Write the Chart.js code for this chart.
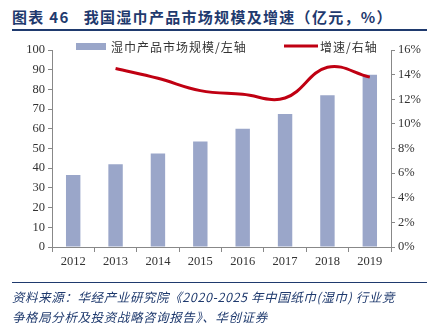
<!DOCTYPE html>
<html>
<head>
<meta charset="utf-8">
<script src="https://cdn.jsdelivr.net/npm/chart.js@4"></script>
<style>
  html, body { margin: 0; padding: 0; background: #fff; }
  body { width: 438px; height: 327px; position: relative; overflow: hidden; }
  #title {
    position: absolute; left: 12px; top: 6px; width: 415px; height: 23px;
    font: bold 15px "Noto Sans CJK SC", sans-serif; color: #1f3a6e;
    letter-spacing: 1.3px; white-space: nowrap; border-bottom: 2px solid #1f3a6e;
  }
  #source {
    position: absolute; left: 12px; top: 282px; width: 415px;
    border-top: 1px solid #1f3a6e; padding-top: 4px;
    font: italic 12.5px "Noto Sans CJK SC", sans-serif; color: #1f3a6e; line-height: 20px;
    letter-spacing: 0.6px; white-space: nowrap;
  }
  #c { position: absolute; left: 0; top: 0; }
</style>
</head>
<body>
<div id="title">图表 46&nbsp;&nbsp;&nbsp;我国湿巾产品市场规模及增速（亿元，%）</div>
<canvas id="c" width="438" height="327"></canvas>
<div id="source">资料来源：华经产业研究院《2020-2025 年中国纸巾(湿巾) 行业竞<br>争格局分析及投资战略咨询报告》、华创证券</div>
<script>
const years = ['2012', '2013', '2014', '2015', '2016', '2017', '2018', '2019'];
const marketSize = [36.5, 42, 47.5, 53.5, 60, 67.5, 77, 87.5];
const growth = [null, 14.5, 13.7, 12.7, 12.4, 12.1, 14.6, 13.8];
const sizeLabel = '湿巾产品市场规模/左轴';
const growthLabel = '增速/右轴';

const barColor = '#9aa6c9';
const lineColor = '#c00012';
const tickFont = { family: '"Liberation Serif", serif', size: 12.5 };

const legendPlugin = {
    id: 'customLegend',
    afterDraw(chart) {
        const ctx = chart.ctx;
        ctx.save();
        ctx.fillStyle = barColor;
        ctx.fillRect(76, 43, 30, 7);
        ctx.strokeStyle = lineColor;
        ctx.lineWidth = 3;
        ctx.beginPath();
        ctx.moveTo(284, 46);
        ctx.lineTo(318, 46);
        ctx.stroke();
        ctx.fillStyle = '#333';
        ctx.font = '12px "Noto Sans CJK SC", sans-serif';
        ctx.letterSpacing = '1px';
        ctx.textBaseline = 'middle';
        ctx.fillText(sizeLabel, 111, 47);
        ctx.fillText(growthLabel, 320, 47);
        ctx.restore();
    }
};

new Chart(document.getElementById('c'), {
    data: {
        labels: years,
        datasets: [{
            type: 'line',
            label: growthLabel,
            data: growth,
            yAxisID: 'y1',
            borderColor: lineColor,
            borderWidth: 3,
            pointRadius: 0,
            tension: 0.4,
            fill: false
        }, {
            type: 'bar',
            label: sizeLabel,
            data: marketSize,
            yAxisID: 'y',
            backgroundColor: barColor,
            barPercentage: 0.34,
            categoryPercentage: 1
        }]
    },
    options: {
        responsive: false,
        animation: false,
        layout: { padding: { left: 12, right: 0, top: 50, bottom: 58 } },
        plugins: { legend: { display: false }, tooltip: { enabled: false } },
        scales: {
            x: {
                grid: { drawOnChartArea: false, color: '#888', tickLength: 5, offset: true },
                border: { color: '#888' },
                ticks: { color: '#333', font: tickFont, padding: 2 },
                afterFit(s) { s.height = 22; }
            },
            y: {
                position: 'left',
                min: 0, max: 100,
                ticks: { stepSize: 10, color: '#333', font: tickFont, padding: 3 },
                grid: { drawOnChartArea: false, color: '#888', tickLength: 4 },
                border: { color: '#888' },
                afterFit(s) { s.width = 40; }
            },
            y1: {
                position: 'right',
                min: 0, max: 16,
                ticks: { stepSize: 2, color: '#333', font: tickFont, padding: 3,
                    callback: v => v + '%' },
                grid: { drawOnChartArea: false, color: '#888', tickLength: 4 },
                border: { color: '#888' },
                afterFit(s) { s.width = 47; }
            }
        }
    },
    plugins: [legendPlugin]
});
</script>
</body>
</html>
